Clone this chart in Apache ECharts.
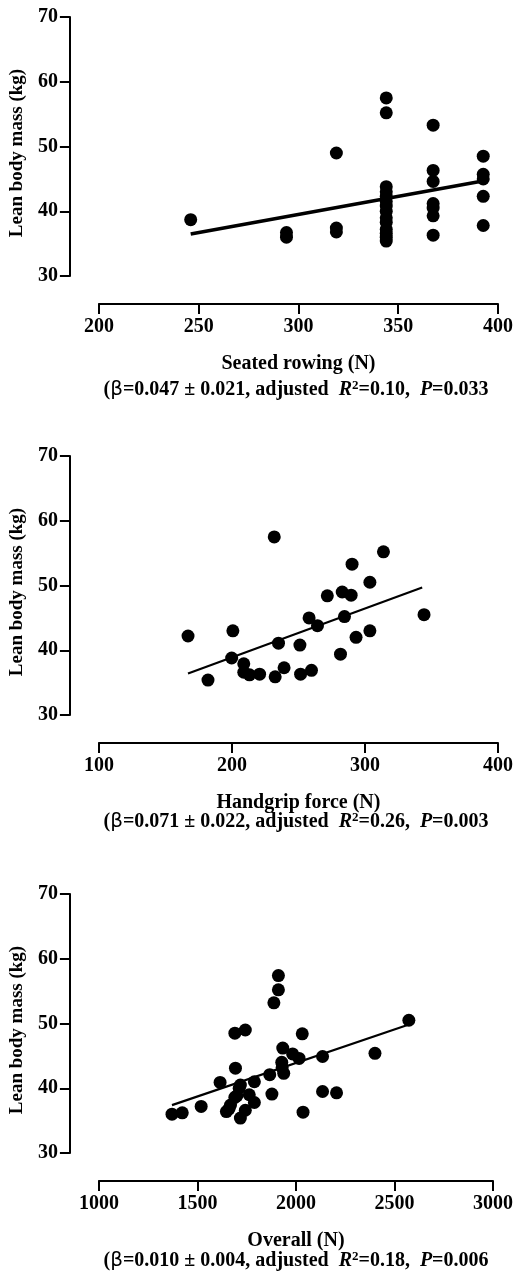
<!DOCTYPE html>
<html>
<head>
<meta charset="utf-8">
<script src="https://cdn.jsdelivr.net/npm/echarts@6/dist/echarts.min.js"></script>
<style>
  html, body { margin: 0; padding: 0; background: #fff; }
  #chart { width: 516px; height: 1277px; }
</style>
</head>
<body>
<div id="chart"></div>
<script>
// 数据: 每个面板的 x(力量, N) 和 y(瘦体重, kg)
const rowingX = [246, 294, 294, 319, 319, 319,
  344, 344, 344, 344, 344, 344, 344, 344, 344, 344, 344, 344, 344, 344,
  367.5, 367.5, 367.5, 367.5, 367.5, 367.5, 367.5,
  392.6, 392.6, 392.6, 392.6, 392.6]
const rowingY = [38.7, 36.7, 36.0, 49.0, 37.4, 36.8,
  57.5, 55.2, 43.8, 43.0, 42.3, 41.5, 40.8, 40.0, 39.0, 38.3, 37.2, 36.6, 36.0, 35.4,
  53.3, 46.3, 44.6, 41.2, 40.5, 39.3, 36.3,
  48.5, 45.7, 45.0, 42.3, 37.8]
const rowingFit = [[246, 36.5], [391, 44.6]]

const gripX = [167, 182, 200.7, 199.8, 208.9, 208.9, 213.2, 220.8, 231.8, 232.5, 235, 239.2,
  251.1, 251.6, 259.8, 258, 264.3, 271.7, 281.6, 282.9, 289.6, 284.6, 290.3, 293.3,
  303.7, 303.7, 313.9, 344.4]
const gripY = [42.2, 35.4, 43.0, 38.8, 37.9, 36.6, 36.2, 36.3, 57.5, 35.9, 41.1, 37.3,
  40.8, 36.3, 36.9, 45.0, 43.8, 48.4, 39.4, 49.0, 48.5, 45.2, 53.3, 42.0,
  50.5, 43.0, 55.2, 45.5]
const gripFit = [[167, 36.4], [343, 49.7]]

const overallX = [1371, 1423, 1519, 1615, 1647, 1668, 1690, 1693, 1690, 1743, 1718, 1712,
  1718, 1743, 1763, 1789, 1789, 1867, 1878, 1888, 1911, 1911, 1933, 1928, 1930, 1938,
  1983, 2016, 2032, 2036, 2135, 2135, 2206, 2401, 2573, 1660, 1700]
const overallY = [36.0, 36.2, 37.2, 40.9, 36.4, 37.4, 38.6, 43.1, 48.5, 49.0, 40.5, 40.0,
  35.4, 36.6, 39.0, 37.8, 41.0, 42.1, 39.1, 53.2, 55.2, 57.4, 46.2, 44.0, 43.2, 42.3,
  45.3, 44.6, 48.4, 36.3, 44.9, 39.5, 39.3, 45.4, 50.5, 36.8, 38.8]
const overallFit = [[1371, 37.4], [2570, 49.8]]

const xNames = ['Seated rowing (N)', 'Handgrip force (N)', 'Overall (N)']
const xRanges = [[200, 400, 50], [100, 400, 100], [1000, 3000, 500]]
const captions = [
  ['0.047 ± 0.021', '0.10', '0.033'],
  ['0.071 ± 0.022', '0.26', '0.003'],
  ['0.010 ± 0.004', '0.18', '0.006'],
]
const yName = 'Lean body mass (kg)'

const gridTops = [17, 456, 894]
const captionY = [390, 822, 1261]
const serif = 'Liberation Serif, Times New Roman, serif'
const chartInstance = echarts.init(document.getElementById('chart'))

const pairs = (xs, ys) => xs.map((x, i) => [x, ys[i]])
const scatterData = [pairs(rowingX, rowingY), pairs(gripX, gripY), pairs(overallX, overallY)]
const fitData = [rowingFit, gripFit, overallFit]
const fitWidth = [3.5, 2.2, 2.2]

const axisLine = { show: true, lineStyle: { color: '#000', width: 2 } }
const axisTick = { show: true, length: 10, lineStyle: { color: '#000', width: 2 } }
const labelStyle = { color: '#000', fontFamily: serif, fontWeight: 'bold', fontSize: 20, formatter: v => String(v) }

const option = {
  animation: false,
  grid: gridTops.map(t => ({ left: 97, right: 16, top: t, height: 259 })),
  xAxis: xRanges.map((r, i) => ({
    type: 'value', gridIndex: i, min: r[0], max: r[1], interval: r[2],
    offset: 28,
    name: xNames[i], nameLocation: 'middle', nameGap: 50,
    nameTextStyle: { color: '#000', fontFamily: serif, fontWeight: 'bold', fontSize: 20 },
    axisLine, axisTick,
    axisLabel: Object.assign({ margin: 13 }, labelStyle),
    splitLine: { show: false },
  })),
  yAxis: gridTops.map((t, i) => ({
    type: 'value', gridIndex: i, min: 30, max: 70, interval: 10,
    offset: 29,
    name: yName, nameLocation: 'middle', nameGap: 42,
    nameTextStyle: { color: '#000', fontFamily: serif, fontWeight: 'bold', fontSize: 19, padding: [0, 13, 0, 0] },
    axisLine, axisTick,
    axisLabel: Object.assign({ margin: 12 }, labelStyle),
    splitLine: { show: false },
  })),
  series: [].concat(
    scatterData.map((d, i) => ({
      type: 'scatter', xAxisIndex: i, yAxisIndex: i, data: d,
      symbolSize: 13, itemStyle: { color: '#000', opacity: 1 },
    })),
    fitData.map((d, i) => ({
      type: 'line', xAxisIndex: i, yAxisIndex: i, data: d,
      showSymbol: false, silent: true,
      lineStyle: { color: '#000', width: fitWidth[i] },
    }))
  ),
  // 回归结果说明
  graphic: captions.map((c, i) => ({
    type: 'text',
    x: 296,
    y: captionY[i],
    style: {
      text: '{b|(}{g|β}{b|=' + c[0] + ', adjusted  }{i|R}{s|2}{b|=' + c[1] + ',  }{i|P}{b|=' + c[2] + '}',
      align: 'center', verticalAlign: 'middle', fill: '#000',
      rich: {
        b: { fontFamily: serif, fontWeight: 'bold', fontSize: 20, fill: '#000' },
        g: { fontFamily: 'DejaVu Sans', fontWeight: 'normal', fontSize: 20, fill: '#000' },
        i: { fontFamily: serif, fontWeight: 'bold', fontStyle: 'italic', fontSize: 20, fill: '#000' },
        s: { fontFamily: serif, fontWeight: 'bold', fontSize: 13, fill: '#000', padding: [0, 0, 9, 0] },
      },
    },
  })),
}
chartInstance.setOption(option)
</script>
</body>
</html>
